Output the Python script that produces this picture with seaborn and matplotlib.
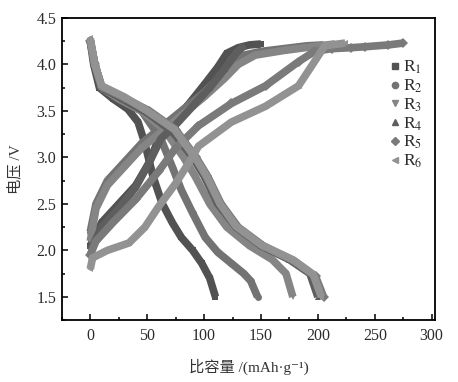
import pandas as pd
import matplotlib
matplotlib.use("Agg")
import matplotlib.pyplot as plt
from matplotlib.ticker import MultipleLocator
from matplotlib.lines import Line2D
import seaborn as sns

# ---------- data ----------
series = ["R1", "R2", "R3", "R4", "R5", "R6"]
colors = ["#525252", "#737373", "#858585", "#5e5e5e", "#7a7a7a", "#929292"]
markers = ["s", "o", "v", "^", "D", "<"]

# charge curves (capacity mAh/g, voltage V)
chg_cap_R1 = [0, 10, 25, 40, 52, 60, 70, 85, 100, 112, 120, 130, 140, 150]
chg_v_R1 = [2.05, 2.3, 2.5, 2.7, 2.95, 3.2, 3.35, 3.55, 3.78, 3.97, 4.12, 4.18, 4.21, 4.22]
chg_cap_R2 = [0, 5, 15, 30, 45, 60, 80, 100, 115, 125, 135, 150, 170, 190, 205]
chg_v_R2 = [2.2, 2.5, 2.75, 2.95, 3.15, 3.3, 3.5, 3.7, 3.88, 4.02, 4.1, 4.14, 4.17, 4.2, 4.21]
chg_cap_R3 = [0, 5, 15, 30, 45, 60, 80, 100, 118, 130, 145, 170, 195, 215]
chg_v_R3 = [2.1, 2.45, 2.7, 2.9, 3.1, 3.25, 3.45, 3.65, 3.85, 4.0, 4.1, 4.15, 4.19, 4.22]
chg_cap_R4 = [0, 10, 25, 40, 52, 62, 75, 90, 105, 118, 128, 135]
chg_v_R4 = [2.0, 2.25, 2.45, 2.68, 2.95, 3.2, 3.35, 3.55, 3.75, 3.95, 4.12, 4.2]
chg_cap_R5 = [0, 5, 20, 40, 60, 75, 95, 124, 154, 183, 197, 212, 229, 241, 262, 275]
chg_v_R5 = [1.95, 2.1, 2.3, 2.55, 2.85, 3.1, 3.34, 3.58, 3.77, 4.03, 4.14, 4.17, 4.18, 4.19, 4.21, 4.23]
chg_cap_R6 = [0, 2, 15, 34, 48, 60, 75, 87, 95, 124, 154, 183, 197, 206, 224]
chg_v_R6 = [1.8, 1.92, 2.0, 2.08, 2.25, 2.47, 2.72, 2.95, 3.12, 3.38, 3.55, 3.77, 4.03, 4.2, 4.23]

# discharge curves
dis_cap_R1 = [0, 3, 8, 20, 33, 42, 48, 55, 63, 72, 80, 90, 98, 105, 110]
dis_v_R1 = [4.25, 4.0, 3.75, 3.63, 3.52, 3.38, 3.15, 2.8, 2.51, 2.3, 2.14, 2.0, 1.86, 1.7, 1.5]
dis_cap_R2 = [0, 4, 10, 25, 45, 62, 73, 80, 90, 101, 112, 124, 135, 141, 147]
dis_v_R2 = [4.25, 4.0, 3.75, 3.63, 3.5, 3.2, 2.87, 2.65, 2.4, 2.14, 1.98, 1.86, 1.75, 1.67, 1.5]
dis_cap_R3 = [0, 4, 10, 25, 45, 65, 82, 92, 105, 120, 140, 160, 172, 178]
dis_v_R3 = [4.25, 4.0, 3.75, 3.63, 3.5, 3.3, 3.0, 2.8, 2.5, 2.25, 2.05, 1.9, 1.75, 1.5]
dis_cap_R4 = [0, 4, 10, 28, 50, 72, 90, 100, 112, 128, 150, 175, 193, 200]
dis_v_R4 = [4.25, 4.0, 3.75, 3.63, 3.48, 3.28, 3.0, 2.8, 2.5, 2.25, 2.05, 1.9, 1.75, 1.5]
dis_cap_R5 = [0, 4, 10, 30, 52, 75, 93, 103, 115, 130, 152, 180, 198, 205]
dis_v_R5 = [4.25, 4.0, 3.76, 3.64, 3.5, 3.3, 3.0, 2.8, 2.5, 2.25, 2.05, 1.88, 1.72, 1.5]
dis_cap_R6 = [0, 4, 10, 30, 50, 74, 92, 102, 114, 128, 150, 178, 196, 203]
dis_v_R6 = [4.28, 4.0, 3.77, 3.65, 3.5, 3.3, 3.0, 2.8, 2.5, 2.26, 2.06, 1.9, 1.74, 1.5]

chg = {"R1": (chg_cap_R1, chg_v_R1), "R2": (chg_cap_R2, chg_v_R2), "R3": (chg_cap_R3, chg_v_R3),
       "R4": (chg_cap_R4, chg_v_R4), "R5": (chg_cap_R5, chg_v_R5), "R6": (chg_cap_R6, chg_v_R6)}
dis = {"R1": (dis_cap_R1, dis_v_R1), "R2": (dis_cap_R2, dis_v_R2), "R3": (dis_cap_R3, dis_v_R3),
       "R4": (dis_cap_R4, dis_v_R4), "R5": (dis_cap_R5, dis_v_R5), "R6": (dis_cap_R6, dis_v_R6)}

rows = []
for name in series:
    for kind, src in (("charge", chg), ("discharge", dis)):
        cap, v = src[name]
        for c, u in zip(cap, v):
            rows.append({"sample": name, "kind": kind, "cap": c, "v": u})
df = pd.DataFrame(rows)

# ---------- plot ----------
sns.set_style("white")
plt.rcParams["mathtext.fontset"] = "stix"
serif = ["Liberation Serif", "Noto Sans CJK SC", "DejaVu Sans"]

fig = plt.figure(figsize=(4.58, 3.82), dpi=100)
ax = fig.add_axes([0.135, 0.162, 0.815, 0.791])

for name, col, mk in zip(series, colors, markers):
    for kind in ("charge", "discharge"):
        sub = df[(df["sample"] == name) & (df["kind"] == kind)]
        sns.lineplot(data=sub, x="cap", y="v", sort=False, estimator=None, ax=ax,
                     color=col, linewidth=5.5, marker=mk, markersize=5,
                     markeredgewidth=0, solid_capstyle="butt")

ax.set_xlim(-25, 303)
ax.set_ylim(1.25, 4.5)
ax.xaxis.set_major_locator(MultipleLocator(50))
ax.xaxis.set_minor_locator(MultipleLocator(25))
ax.yaxis.set_major_locator(MultipleLocator(0.5))
ax.yaxis.set_minor_locator(MultipleLocator(0.25))
ax.tick_params(which="both", direction="in", top=False, right=False,
               bottom=True, left=True, color="black", width=1.1)
ax.tick_params(which="major", length=4, labelsize=11.5)
ax.tick_params(axis="x", which="major", pad=6)
ax.tick_params(axis="y", which="major", pad=4)
ax.tick_params(which="minor", length=2.5)
for lab in ax.get_xticklabels() + ax.get_yticklabels():
    lab.set_family(serif)
    lab.set_color("#2b2b2b")
for s in ax.spines.values():
    s.set_color("black")
    s.set_linewidth(1.3)

ax.set_xlabel("比容量 /(mAh·g⁻¹)", family=serif, fontsize=11, color="#333333", labelpad=10)
ax.set_ylabel("电压 /V", family=serif, fontsize=11, color="#333333", labelpad=10)

handles = [Line2D([], [], linestyle="none", marker=mk, color=col, markersize=4.5)
           for col, mk in zip(colors, markers)]
labels = [f"R$_{i + 1}$" for i in range(6)]
leg = ax.legend(handles, labels, loc="upper right", bbox_to_anchor=(1.0, 0.905),
                frameon=False, handlelength=0.4, handletextpad=0.25,
                labelspacing=0.08, fontsize=12.5, borderaxespad=0.3)
for t in leg.get_texts():
    t.set_family(serif)
    t.set_color("#2b2b2b")

fig.savefig("out.png", dpi=100)
